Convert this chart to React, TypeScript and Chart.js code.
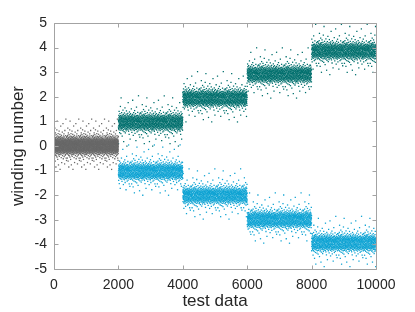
import React, { useEffect, useRef } from "react";
import { Chart, registerables } from "chart.js";

Chart.register(...registerables);

// Segment layout of the test data (x = sample index)
const segmentStarts = [0, 2000, 4000, 6000, 8000];
const segmentWidth = 2000;
// Mean winding number of each cloud
const grayLevels = [0];
const tealLevels = [0.95, 1.93, 2.9, 3.85];
const blueLevels = [-1.05, -2.02, -3.0, -3.95];
// Width of the scatter around each mean (estimated)
const cloudSpread = 1.4;
// Scatter around each mean, estimated from the spread of the clouds
const jitter = [
  0.04, -0.11, 0.18, -0.02, 0.09, -0.16, 0.27, -0.07, 0.13, 0.01,
  -0.19, 0.06, -0.04, 0.22, -0.13, 0.11, -0.35, 0.03, 0.16, -0.08,
  0.02, -0.21, 0.14, -0.05, 0.31, -0.1, 0.07, -0.15, 0.52, -0.01,
  0.12, -0.06, 0.2, -0.24, 0.05, -0.12, 0.17, -0.03, 0.1, -0.44,
  -0.09, 0.23, -0.14, 0.08, -0.02, 0.15, -0.18, 0.38, -0.06, 0.04,
  0.19, -0.1, 0.01, -0.27, 0.12, -0.04, 0.25, -0.13, 0.06, -0.61,
  -0.17, 0.03, 0.14, -0.08, 0.21, -0.2, 0.09, -0.01, 0.33, -0.11,
  0.07, -0.15, 0.02, 0.18, -0.05, 0.11, -0.29, 0.16, -0.09, 0.05,
  -0.03, 0.26, -0.12, 0.08, -0.22, 0.0, 0.13, -0.07, 0.47, -0.16,
  0.1, -0.02, 0.2, -0.11, 0.04, -0.32, 0.15, -0.06, 0.09, 0.72,
  -0.14, 0.06, -0.21, 0.17, -0.01, 0.12, -0.08, 0.29, -0.17, 0.03,
  0.15, -0.05, 0.08, -0.13, 0.22, -0.04, -0.39, 0.11, -0.1, 0.02,
  -0.07, 0.19, -0.16, 0.05, -0.01, 0.14, -0.23, 0.07, 0.36, -0.12,
  0.03, -0.09, 0.12, -0.2, 0.24, -0.06, 0.1, -0.14, 0.01, -0.55,
  0.17, -0.03, 0.06, -0.1, 0.13, -0.26, 0.04, 0.2, -0.08, 0.09,
  -0.12, 0.28, -0.05, 0.11, -0.18, 0.02, -0.01, 0.16, -0.11, 0.43,
  0.08, -0.15, 0.21, -0.07, 0.03, -0.3, 0.14, -0.02, 0.1, -0.19,
  -0.04, 0.12, -0.09, 0.05, 0.18, -0.13, 0.07, -0.24, 0.25, 0.0,
  0.11, -0.06, 0.34, -0.17, 0.02, 0.09, -0.11, 0.15, -0.03, -0.68,
  -0.2, 0.04, 0.13, -0.08, 0.19, -0.01, 0.06, -0.14, 0.22, -0.05,
  0.01, -0.12, 0.09, 0.27, -0.16, 0.05, -0.04, 0.12, -0.21, 0.58,
  0.14, -0.07, 0.03, -0.1, 0.17, -0.25, 0.08, -0.02, 0.11, -0.15,
  -0.06, 0.2, -0.13, 0.02, -0.34, 0.1, 0.16, -0.09, 0.05, 0.31,
  0.07, -0.18, 0.12, -0.03, 0.23, -0.11, 0.01, -0.07, 0.14, -0.48,
  -0.1, 0.05, -0.02, 0.18, -0.14, 0.08, 0.26, -0.19, 0.03, -0.05,
  0.13, -0.08, 0.06, -0.22, 0.1, -0.01, 0.15, -0.12, 0.4, -0.04,
  0.02, 0.17, -0.15, 0.07, -0.06, 0.21, -0.28, 0.09, -0.1, 0.12,
  -0.13, 0.04, 0.11, -0.04, 0.16, -0.17, 0.0, 0.24, -0.08, 0.65,
  0.09, -0.11, 0.19, -0.02, 0.06, -0.21, 0.13, -0.05, -0.37, 0.1,
  -0.07, 0.15, -0.1, 0.03, 0.29, -0.15, 0.08, -0.01, 0.12, -0.18,
  0.05, -0.04, 0.22, -0.12, 0.01, 0.14, -0.23, 0.06, -0.09, 0.35,
  0.18, -0.16, 0.04, -0.07, 0.1, -0.31, 0.16, -0.03, 0.07, -0.13,
  -0.02, 0.11, -0.19, 0.26, -0.05, 0.08, -0.12, 0.02, 0.17, -0.52,
  0.12, -0.09, 0.05, -0.14, 0.2, -0.03, 0.09, -0.2, 0.45, 0.03,
  -0.15, 0.07, 0.14, -0.06, 0.02, -0.1, 0.19, -0.27, 0.1, -0.01,
  0.06, -0.13, 0.21, -0.04, 0.12, -0.17, 0.04, 0.3, -0.08, 0.15,
  -0.11, 0.01, -0.24, 0.1, 0.07, -0.06, 0.16, -0.14, 0.03, 0.78,
  0.16, -0.02, 0.09, -0.19, 0.05, 0.13, -0.1, 0.2, -0.35, 0.06,
  -0.05, 0.12, -0.08, 0.03, 0.25, -0.12, 0.01, -0.16, 0.11, -0.42,
  0.08, -0.14, 0.17, -0.01, 0.04, -0.22, 0.14, -0.09, 0.28, -0.03,
];
const xTicks = [0, 2000, 4000, 6000, 8000, 10000];
const yTicks = [-5, -4, -3, -2, -1, 0, 1, 2, 3, 4, 5];

const FONT = "'Liberation Sans', Arial, Helvetica, sans-serif";
const AXIS_COLOR = "#a3a3a3";

function cloud(start: number, level: number, step: number, phase: number, offset: number) {
  const pts: { x: number; y: number }[] = [];
  let n = 0;
  for (let x = start + phase; x < start + segmentWidth; x += step) {
    pts.push({ x, y: level + cloudSpread * jitter[(n + offset) % jitter.length] });
    n++;
  }
  return pts;
}

const boxPlugin = {
  id: "matlabBox",
  afterDatasetsDraw(chart: any) {
    const { ctx, chartArea } = chart;
    const l = Math.round(chartArea.left) + 0.5;
    const r = Math.round(chartArea.right) + 0.5;
    const t = Math.round(chartArea.top) + 0.5;
    const b = Math.round(chartArea.bottom) + 0.5;
    ctx.save();
    ctx.strokeStyle = AXIS_COLOR;
    ctx.lineWidth = 1;
    ctx.beginPath();
    ctx.rect(l, t, r - l, b - t);
    const tl = 4;
    const xs = chart.scales.x;
    const ys = chart.scales.y;
    xTicks.forEach((v) => {
      const px = Math.round(xs.getPixelForValue(v)) + 0.5;
      ctx.moveTo(px, b);
      ctx.lineTo(px, b - tl);
      ctx.moveTo(px, t);
      ctx.lineTo(px, t + tl);
    });
    yTicks.forEach((v) => {
      const py = Math.round(ys.getPixelForValue(v)) + 0.5;
      ctx.moveTo(l, py);
      ctx.lineTo(l + tl, py);
      ctx.moveTo(r, py);
      ctx.lineTo(r - tl, py);
    });
    ctx.stroke();
    ctx.restore();
  },
};

export default function App() {
  const ref = useRef<HTMLCanvasElement | null>(null);

  useEffect(() => {
    if (!ref.current) return;
    const grayData = cloud(segmentStarts[0], grayLevels[0], 1, 0, 0);
    const tealData: any[] = [];
    const blueData: any[] = [];
    tealLevels.forEach((lv, i) => {
      tealData.push(...cloud(segmentStarts[i + 1], lv, 2, 0, 57 + i * 83));
    });
    blueLevels.forEach((lv, i) => {
      blueData.push(...cloud(segmentStarts[i + 1], lv, 2, 1, 211 + i * 61));
    });

    const mk = (data: any[], color: string) => ({
      data,
      showLine: false,
      pointStyle: "rect",
      pointRadius: 0.9,
      pointBorderWidth: 0,
      pointBackgroundColor: color,
      pointHoverRadius: 0,
    });

    const chart = new Chart(ref.current, {
      type: "scatter",
      data: {
        datasets: [
          mk(grayData, "#686868"),
          mk(tealData, "#00706e"),
          mk(blueData, "#0ea3d3"),
        ],
      },
      options: {
        animation: false,
        responsive: false,
        maintainAspectRatio: false,
        parsing: false,
        normalized: true,
        events: [],
        layout: { padding: { left: 0, right: 39, top: 23, bottom: 0 } },
        plugins: {
          legend: { display: false },
          tooltip: { enabled: false },
        },
        scales: {
          x: {
            type: "linear",
            min: 0,
            max: 10000,
            grid: { display: false, drawTicks: false },
            border: { display: false },
            afterBuildTicks: (s: any) => {
              s.ticks = xTicks.map((v) => ({ value: v }));
            },
            afterFit: (s: any) => {
              s.height = 43;
            },
            ticks: {
              padding: 8,
              color: "#262626",
              font: { family: FONT, size: 14 },
              maxRotation: 0,
              callback: (v: any) => String(v),
            },
            title: {
              display: true,
              text: "test data",
              color: "#262626",
              font: { family: FONT, size: 17 },
              padding: { top: 0, bottom: 0 },
            },
          },
          y: {
            type: "linear",
            min: -5,
            max: 5,
            grid: { display: false, drawTicks: false },
            border: { display: false },
            afterBuildTicks: (s: any) => {
              s.ticks = yTicks.map((v) => ({ value: v }));
            },
            afterFit: (s: any) => {
              s.width = 54;
            },
            ticks: {
              padding: 7,
              color: "#262626",
              font: { family: FONT, size: 14 },
              callback: (v: any) => String(v),
            },
            title: {
              display: true,
              text: "winding number",
              color: "#262626",
              font: { family: FONT, size: 17 },
              padding: { top: 8, bottom: 0 },
            },
          },
        },
      },
      plugins: [boxPlugin],
    });
    return () => chart.destroy();
  }, []);

  return (
    <div style={{ position: "fixed", left: 0, top: 0, width: 415, height: 312, background: "#fff" }}>
      <canvas ref={ref} width={415} height={312} style={{ width: 415, height: 312, display: "block" }} />
    </div>
  );
}
